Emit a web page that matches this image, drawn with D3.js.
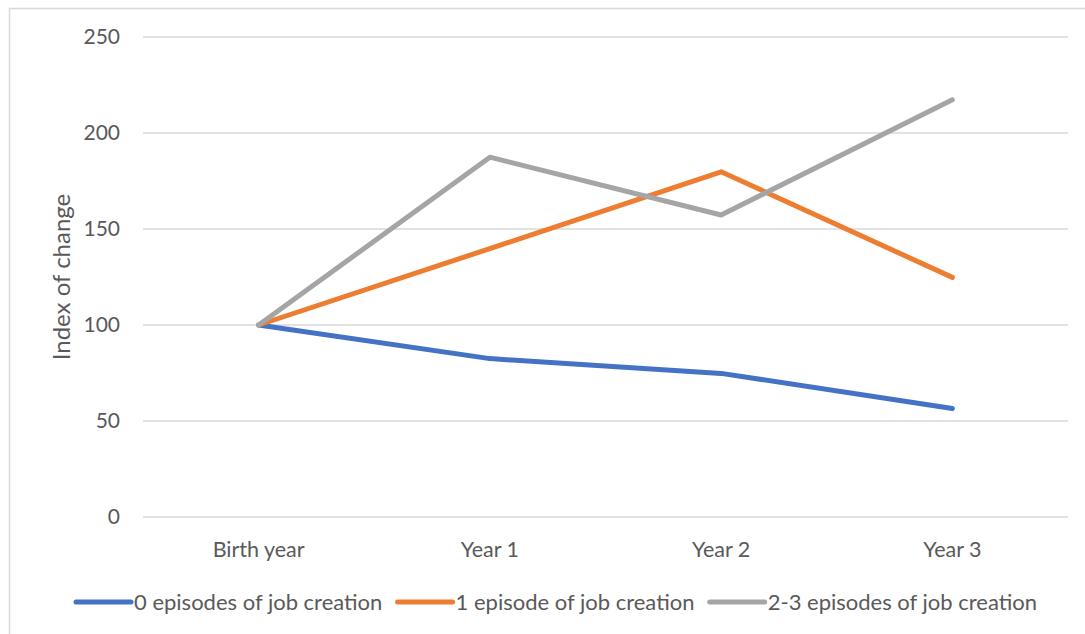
<!DOCTYPE html>
<html>
<head>
<meta charset="utf-8">
<script src="https://cdn.jsdelivr.net/npm/d3@7"></script>
<style>
  body { margin: 0; background: #fff; }
  text { font-family: Lato, "Open Sans", sans-serif; fill: #595959; }
</style>
</head>
<body>
<div id="chart"></div>
<script>
// categories and series
const categories = ['Birth year', 'Year 1', 'Year 2', 'Year 3'];
const seriesNames = ['0 episodes of job creation', '1 episode of job creation', '2-3 episodes of job creation'];
const zeroEpisodes = [100, 82.5, 74.8, 56.5];
const oneEpisode = [100, 139.8, 179.8, 124.8];
const twoThreeEpisodes = [100, 187.4, 157.3, 217.3];
const yTicks = [0, 50, 100, 150, 200, 250];
const colors = ['#4472C4', '#ED7D31', '#A5A5A5'];

const series = [zeroEpisodes, oneEpisode, twoThreeEpisodes].map((values, i) => ({
    name: seriesNames[i], values, color: colors[i]
}));

const W = 1085, H = 634;
const margin = { top: 37, right: 17, bottom: 117, left: 143 };
const width = W - margin.left - margin.right;
const height = H - margin.top - margin.bottom;

const svg = d3.select('#chart').append('svg')
    .attr('width', W)
    .attr('height', H);

// chart frame
svg.append('rect')
    .attr('x', 9.5).attr('y', 8.5)
    .attr('width', W + 20).attr('height', H + 20)
    .attr('fill', 'none')
    .attr('stroke', '#d9d9d9')
    .attr('stroke-width', 1.5);

const g = svg.append('g')
    .attr('transform', `translate(${margin.left},${margin.top})`);

const x = d3.scalePoint().domain(categories).range([0, width]).padding(0.5);
const y = d3.scaleLinear().domain([0, 250]).range([height, 0]);

// gridlines
g.selectAll('.grid')
    .data(yTicks)
    .enter().append('line')
    .attr('x1', 0).attr('x2', width)
    .attr('y1', d => y(d)).attr('y2', d => y(d))
    .attr('stroke', '#d9d9d9')
    .attr('stroke-width', 1.3);

// y tick labels
g.selectAll('.ytick')
    .data(yTicks)
    .enter().append('text')
    .attr('x', -23)
    .attr('y', d => y(d))
    .attr('dy', '0.35em')
    .attr('text-anchor', 'end')
    .style('font-size', '21px')
    .text(d => d);

// x category labels
g.selectAll('.xtick')
    .data(categories)
    .enter().append('text')
    .attr('x', d => x(d))
    .attr('y', height + 32)
    .attr('dy', '0.35em')
    .attr('text-anchor', 'middle')
    .style('font-size', '21.5px')
    .text(d => d);

// y axis title
svg.append('text')
    .attr('transform', `translate(62,${margin.top + height / 2}) rotate(-90)`)
    .attr('dy', '0.35em')
    .attr('text-anchor', 'middle')
    .style('font-size', '24px')
    .text('Index of change');

const line = d3.line()
    .x((d, i) => x(categories[i]))
    .y(d => y(d));

g.selectAll('.series')
    .data(series)
    .enter().append('path')
    .attr('d', d => line(d.values))
    .attr('fill', 'none')
    .attr('stroke', d => d.color)
    .attr('stroke-width', 5)
    .attr('stroke-linecap', 'round')
    .attr('stroke-linejoin', 'round');

// legend: swatch + label, spread between fixed left and right edges
const legend = svg.append('g').attr('transform', `translate(0,${H - 32})`);
const items = legend.selectAll('.item')
    .data(series)
    .enter().append('g');

items.append('line')
    .attr('x1', 0).attr('x2', 55)
    .attr('stroke', d => d.color)
    .attr('stroke-width', 5)
    .attr('stroke-linecap', 'round');

items.append('text')
    .attr('x', 58)
    .attr('dy', '0.35em')
    .style('font-size', '22px')
    .text(d => d.name);

const widths = [];
items.each(function () { widths.push(this.getBBox().width); });
const legendLeft = 76, legendRight = 1037;
const itemGap = (legendRight - legendLeft - d3.sum(widths)) / (widths.length - 1);
items.attr('transform', (d, i) => {
    const pos = legendLeft + d3.sum(widths.slice(0, i)) + itemGap * i;
    return `translate(${pos},0)`;
});
</script>
</body>
</html>
